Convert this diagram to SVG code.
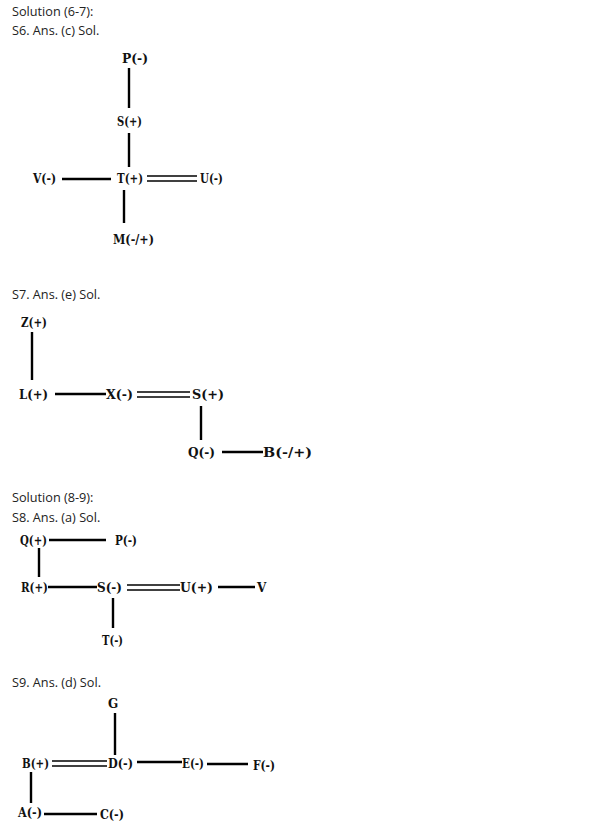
<svg xmlns="http://www.w3.org/2000/svg" width="613" height="832" viewBox="0 0 613 832">
<style>
.h{font-family:"Open Sans","Noto Sans",sans-serif;font-size:12.7px;fill:#222}
.n{font-family:"DejaVu Serif","Liberation Serif",serif;font-weight:bold;font-size:12px;fill:#111}
.l{stroke:#000;stroke-width:2.4;fill:none}
.d{stroke:#000;stroke-width:1.7;fill:none}
</style>
<rect width="613" height="832" fill="#fff"/>
<text class="h" x="12" y="16">Solution (6-7):</text>
<text class="h" x="12" y="35">S6. Ans. (c) Sol.</text>
<text class="h" x="12" y="299">S7. Ans. (e) Sol.</text>
<text class="h" x="12" y="502">Solution (8-9):</text>
<text class="h" x="12" y="522">S8. Ans. (a) Sol.</text>
<text class="h" x="12" y="687">S9. Ans. (d) Sol.</text>

<g id="connectors">
<!-- S6 -->
<line class="l" x1="129" y1="68" x2="129" y2="108"/>
<line class="l" x1="129" y1="133" x2="129" y2="167"/>
<line class="l" x1="62" y1="179" x2="111" y2="179"/>
<line class="d" x1="147" y1="176" x2="197" y2="176"/>
<line class="d" x1="147" y1="181" x2="197" y2="181"/>
<line class="l" x1="124" y1="190" x2="124" y2="223"/>
<!-- S7 -->
<line class="l" x1="32" y1="332" x2="32" y2="380"/>
<line class="l" x1="55" y1="394" x2="106" y2="394"/>
<line class="d" x1="137" y1="392" x2="190" y2="392"/>
<line class="d" x1="137" y1="397" x2="190" y2="397"/>
<line class="l" x1="201" y1="406" x2="201" y2="440"/>
<line class="l" x1="222" y1="452" x2="263" y2="452"/>
<!-- S8 -->
<line class="l" x1="49" y1="540" x2="106" y2="540"/>
<line class="l" x1="39" y1="548" x2="39" y2="577"/>
<line class="l" x1="48" y1="587" x2="97" y2="587"/>
<line class="d" x1="127" y1="585" x2="180" y2="585"/>
<line class="d" x1="127" y1="590" x2="180" y2="590"/>
<line class="l" x1="218" y1="587" x2="255" y2="587"/>
<line class="l" x1="113" y1="598" x2="113" y2="628"/>
<!-- S9 -->
<line class="l" x1="115" y1="713" x2="115" y2="755"/>
<line class="d" x1="52" y1="761" x2="107" y2="761"/>
<line class="d" x1="52" y1="766" x2="107" y2="766"/>
<line class="l" x1="137" y1="762" x2="182" y2="762"/>
<line class="l" x1="207" y1="764" x2="248" y2="764"/>
<line class="l" x1="31" y1="772" x2="31" y2="803"/>
<line class="l" x1="44" y1="814" x2="97" y2="814"/>
</g>

<!-- S6 nodes -->
<g id="s6-P"><text class="n" x="122" y="63" textLength="26" lengthAdjust="spacingAndGlyphs">P(-)</text></g>
<g id="s6-S"><text class="n" x="117" y="126" textLength="25" lengthAdjust="spacingAndGlyphs">S(+)</text></g>
<g id="s6-T"><text class="n" x="117" y="183" textLength="26" lengthAdjust="spacingAndGlyphs">T(+)</text></g>
<g id="s6-V"><text class="n" x="33" y="183" textLength="23" lengthAdjust="spacingAndGlyphs">V(-)</text></g>
<g id="s6-U"><text class="n" x="200" y="183" textLength="23" lengthAdjust="spacingAndGlyphs">U(-)</text></g>
<g id="s6-M"><text class="n" x="113" y="244" textLength="41" lengthAdjust="spacingAndGlyphs">M(-/+)</text></g>

<!-- S7 nodes -->
<g id="s7-Z"><text class="n" x="21" y="327" textLength="26" lengthAdjust="spacingAndGlyphs">Z(+)</text></g>
<g id="s7-L"><text class="n" x="19" y="399" textLength="29" lengthAdjust="spacingAndGlyphs">L(+)</text></g>
<g id="s7-X"><text class="n" x="106" y="399" textLength="27" lengthAdjust="spacingAndGlyphs">X(-)</text></g>
<g id="s7-S"><text class="n" x="192" y="399" textLength="32" lengthAdjust="spacingAndGlyphs">S(+)</text></g>
<g id="s7-Q"><text class="n" x="188" y="457" textLength="27" lengthAdjust="spacingAndGlyphs">Q(-)</text></g>
<g id="s7-B"><text class="n" x="263" y="457" textLength="49" lengthAdjust="spacingAndGlyphs">B(-/+)</text></g>

<!-- S8 nodes -->
<g id="s8-Q"><text class="n" x="20" y="545" textLength="27" lengthAdjust="spacingAndGlyphs">Q(+)</text></g>
<g id="s8-P"><text class="n" x="115" y="545" textLength="22" lengthAdjust="spacingAndGlyphs">P(-)</text></g>
<g id="s8-R"><text class="n" x="21" y="592" textLength="27" lengthAdjust="spacingAndGlyphs">R(+)</text></g>
<g id="s8-S"><text class="n" x="97" y="592" textLength="25" lengthAdjust="spacingAndGlyphs">S(-)</text></g>
<g id="s8-U"><text class="n" x="180" y="592" textLength="33" lengthAdjust="spacingAndGlyphs">U(+)</text></g>
<g id="s8-V"><text class="n" x="257" y="592">V</text></g>
<g id="s8-T"><text class="n" x="102" y="645" textLength="21" lengthAdjust="spacingAndGlyphs">T(-)</text></g>

<!-- S9 nodes -->
<g id="s9-G"><text class="n" x="108" y="708">G</text></g>
<g id="s9-B"><text class="n" x="22" y="768" textLength="27" lengthAdjust="spacingAndGlyphs">B(+)</text></g>
<g id="s9-D"><text class="n" x="108" y="768" textLength="25" lengthAdjust="spacingAndGlyphs">D(-)</text></g>
<g id="s9-E"><text class="n" x="182" y="768" textLength="22" lengthAdjust="spacingAndGlyphs">E(-)</text></g>
<g id="s9-F"><text class="n" x="253" y="770" textLength="22" lengthAdjust="spacingAndGlyphs">F(-)</text></g>
<g id="s9-A"><text class="n" x="18" y="817" textLength="24" lengthAdjust="spacingAndGlyphs">A(-)</text></g>
<g id="s9-C"><text class="n" x="100" y="819" textLength="24" lengthAdjust="spacingAndGlyphs">C(-)</text></g>
</svg>
